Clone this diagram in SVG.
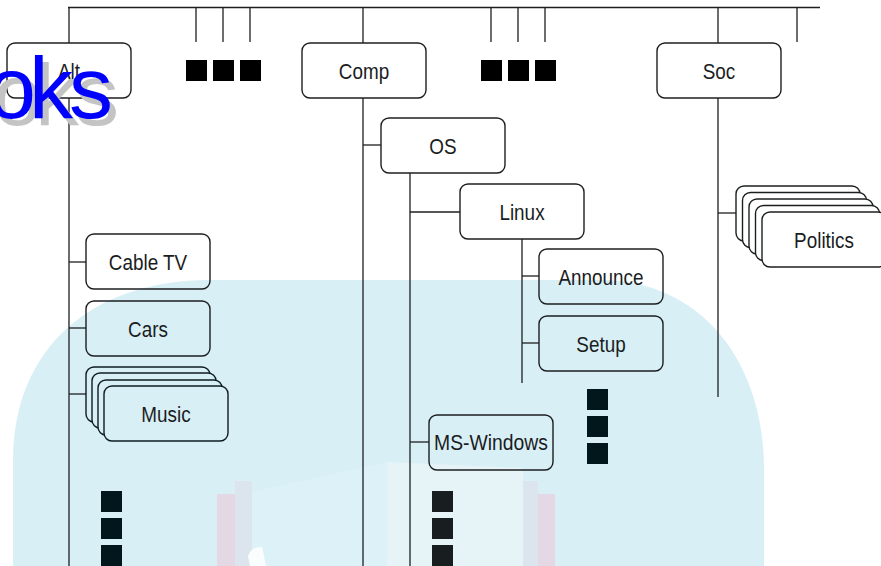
<svg xmlns="http://www.w3.org/2000/svg" width="881" height="566" viewBox="0 0 881 566">
<defs>
<style>
.ln{stroke:#1c1f20;stroke-width:1.3;fill:none}
.bx{fill:none;stroke:#1c1f20;stroke-width:1.4}
.bw{fill:#fff;stroke:#1c1f20;stroke-width:1.4}
.bc{fill:#d9eff6;stroke:#0f1c20;stroke-width:1.4}
.tx{font-family:"Liberation Sans",Arial,sans-serif;font-size:22.5px;fill:#1a1d1e;text-anchor:middle}
.sq{fill:#02171c}
.bk{fill:#000}
</style>
<rect id="card" width="124" height="55" rx="8" ry="8"/>
</defs>
<rect width="881" height="566" fill="#fff"/>
<g id="watermark">
<path d="M13,566 L13,460 C13,350 90,280 210,280 L600,280 C700,280 764,360 764,470 L764,566 Z" fill="#d9eff6"/>
<polygon points="252,492 387,462 387,566 252,566" fill="#dcf2f8"/>
<polygon points="387,462 523,468 523,566 387,566" fill="#e6f4f7"/>
<rect x="217" y="494" width="18" height="72" fill="#e3d8e3"/>
<rect x="235" y="481" width="17" height="85" fill="#dce5ed"/>
<rect x="523" y="481" width="15" height="85" fill="#dce5ed"/>
<rect x="538" y="494" width="17" height="72" fill="#e3d8e3"/>
<path d="M248,556 Q252,546 262,547 L266,566 L250,566 Z" fill="#fafdfe"/>
</g>
<g id="connectors">
<line class="ln" x1="68" y1="7.5" x2="820" y2="7.5"/>
<line class="ln" x1="69" y1="7" x2="69" y2="43"/>
<line class="ln" x1="69" y1="98" x2="69" y2="566"/>
<line class="ln" x1="363" y1="7" x2="363" y2="43"/>
<line class="ln" x1="363" y1="98" x2="363" y2="566"/>
<line class="ln" x1="718" y1="7" x2="718" y2="43"/>
<line class="ln" x1="718" y1="98" x2="718" y2="397"/>
<line class="ln" x1="410" y1="173" x2="410" y2="566"/>
<line class="ln" x1="522" y1="239" x2="522" y2="383"/>
<line class="ln" x1="196" y1="7" x2="196" y2="42"/>
<line class="ln" x1="223" y1="7" x2="223" y2="42"/>
<line class="ln" x1="250" y1="7" x2="250" y2="42"/>
<line class="ln" x1="491" y1="7" x2="491" y2="42"/>
<line class="ln" x1="518" y1="7" x2="518" y2="42"/>
<line class="ln" x1="545" y1="7" x2="545" y2="42"/>
<line class="ln" x1="797" y1="7" x2="797" y2="42"/>
<line class="ln" x1="69" y1="262" x2="86" y2="262"/>
<line class="ln" x1="69" y1="328" x2="86" y2="328"/>
<line class="ln" x1="69" y1="394" x2="86" y2="394"/>
<line class="ln" x1="363" y1="145" x2="381" y2="145"/>
<line class="ln" x1="410" y1="212" x2="460" y2="212"/>
<line class="ln" x1="522" y1="276" x2="539" y2="276"/>
<line class="ln" x1="522" y1="343" x2="539" y2="343"/>
<line class="ln" x1="410" y1="442" x2="429" y2="442"/>
<line class="ln" x1="718" y1="213" x2="736" y2="213"/>
</g>
<g id="ellipsis">
<rect class="bk" x="186" y="60" width="21" height="21"/>
<rect class="bk" x="213" y="60" width="21" height="21"/>
<rect class="bk" x="240" y="60" width="21" height="21"/>
<rect class="bk" x="481" y="60" width="21" height="21"/>
<rect class="bk" x="508" y="60" width="21" height="21"/>
<rect class="bk" x="535" y="60" width="21" height="21"/>
<rect class="sq" x="587" y="389" width="21" height="21"/>
<rect class="sq" x="587" y="416" width="21" height="21"/>
<rect class="sq" x="587" y="443" width="21" height="21"/>
<rect class="sq" x="432" y="491" width="21" height="21" style="fill:#181d1f"/>
<rect class="sq" x="432" y="518" width="21" height="21" style="fill:#181d1f"/>
<rect class="sq" x="432" y="545" width="21" height="21" style="fill:#181d1f"/>
<rect class="sq" x="101" y="491" width="21" height="21"/>
<rect class="sq" x="101" y="518" width="21" height="21"/>
<rect class="sq" x="101" y="545" width="21" height="21"/>
</g>
<g id="alt"><use href="#card" class="bx" x="7" y="43"/><text class="tx" transform="translate(69,79) scale(0.84,1)">Alt</text></g>
<g id="comp"><use href="#card" class="bx" x="302" y="43"/><text class="tx" transform="translate(364,79) scale(0.84,1)">Comp</text></g>
<g id="soc"><use href="#card" class="bx" x="657" y="43"/><text class="tx" transform="translate(719,79) scale(0.84,1)">Soc</text></g>
<g id="os"><use href="#card" class="bx" x="381" y="118"/><text class="tx" transform="translate(443,154) scale(0.84,1)">OS</text></g>
<g id="linux"><use href="#card" class="bx" x="460" y="184"/><text class="tx" transform="translate(522,220) scale(0.84,1)">Linux</text></g>
<g id="announce"><use href="#card" class="bx" x="539" y="249"/><text class="tx" transform="translate(601,285) scale(0.84,1)">Announce</text></g>
<g id="setup"><use href="#card" class="bx" x="539" y="316"/><text class="tx" transform="translate(601,352) scale(0.84,1)">Setup</text></g>
<g id="mswindows"><use href="#card" class="bx" x="429" y="415"/><text class="tx" transform="translate(491,450) scale(0.86,1)">MS-Windows</text></g>
<g id="cabletv"><use href="#card" class="bx" x="86" y="234"/><text class="tx" transform="translate(148,270) scale(0.84,1)">Cable TV</text></g>
<g id="cars"><use href="#card" class="bx" x="86" y="301"/><text class="tx" transform="translate(148,337) scale(0.84,1)">Cars</text></g>
<g id="music">
<use href="#card" class="bc" x="86" y="367"/>
<use href="#card" class="bc" x="92" y="373"/>
<use href="#card" class="bc" x="98" y="380"/>
<use href="#card" class="bc" x="104" y="386"/>
<text class="tx" transform="translate(166,422) scale(0.84,1)">Music</text>
</g>
<g id="politics">
<use href="#card" class="bw" x="736" y="186"/>
<use href="#card" class="bw" x="742.5" y="192.5"/>
<use href="#card" class="bw" x="749" y="199"/>
<use href="#card" class="bw" x="755.5" y="205.5"/>
<use href="#card" class="bw" x="762" y="212"/>
<text class="tx" transform="translate(824,248) scale(0.84,1)">Politics</text>
</g>
<g id="logo" font-family="'Liberation Sans',Arial,sans-serif" font-size="88">
<text x="-7 35 75" y="125" fill="#c4c4c4">oks</text>
<text x="-13 29 69" y="118" fill="#0000ff">oks</text>
</g>
</svg>
